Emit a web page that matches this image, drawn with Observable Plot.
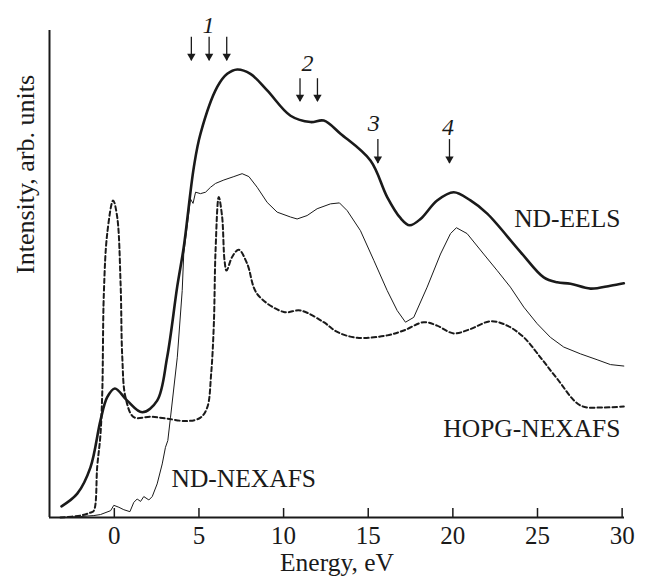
<!DOCTYPE html>
<html><head><meta charset="utf-8">
<script src="https://cdn.jsdelivr.net/npm/d3@7"></script>
<script src="https://cdn.jsdelivr.net/npm/@observablehq/plot@0.6"></script>
<style>body{margin:0;background:#fff}</style>
</head><body><div id="chart"></div>
<script>
// ND-EELS (thick solid)
const eelsE = [-3.12,-2.19,-1.41,-0.82,-0.42,0.03,0.76,1.65,2.53,3.12,3.72,4.1,4.7,5.09,6.08,6.67,7.26,8.04,9.03,10.41,11.59,12.37,13.36,15.13,16.12,16.9,17.45,18.09,19.07,20.05,21.04,22.03,24.0,25.37,26.16,26.95,28.13,29.31,30.1];
const eelsI = [2.3,4.9,10.3,19.9,24.7,26.5,24.0,21.6,24.0,32.9,47.5,55.5,72.0,78.8,88.4,91.1,92.0,91.1,87.7,82.5,81.2,81.5,78.8,73.3,65.8,61.5,60.0,61.3,65.1,66.8,65.1,62.4,54.5,49.3,48.3,48.0,47.0,47.6,48.1];
// ND-NEXAFS (thin solid)
const ndE = [-3.0,-2.0,-1.21,-0.82,-0.22,-0.03,0.27,0.56,0.92,1.15,1.35,1.55,1.74,2.04,2.24,2.53,2.83,3.02,3.16,3.32,3.72,4.01,4.1,4.5,4.65,4.8,5.09,5.39,5.68,5.98,6.47,7.06,7.55,7.95,8.44,9.03,9.62,10.41,10.8,11.39,11.98,12.77,13.3,13.76,14.54,15.33,16.12,16.71,17.2,17.69,18.48,19.27,19.86,20.21,20.84,21.82,22.62,23.4,24.19,24.98,25.76,26.55,27.54,28.52,29.31,30.1];
const ndI = [0,0.2,0.4,0.6,1.4,2.5,2.1,1.6,1.2,3.1,3.8,3.3,4.3,3.6,4.3,6.9,11.0,14.4,15.8,20.6,32.9,46.6,54.1,65.4,64.5,66.8,66.5,66.8,67.8,68.6,69.3,70.0,70.6,70.0,67.8,64.7,62.7,61.7,61.3,62.0,63.4,64.4,64.6,63.0,58.9,52.8,46.6,42.5,40.1,41.1,47.3,54.1,58.3,59.5,58.3,54.1,50.7,47.3,43.2,39.8,37.0,35.0,33.6,32.4,31.4,31.1];
// HOPG-NEXAFS (dashed)
const hopgE = [-3.18,-2.0,-1.41,-1.21,-1.01,-0.82,-0.71,-0.62,-0.42,-0.07,0.17,0.37,0.47,0.66,1.15,2.14,3.12,4.31,5.09,5.49,5.72,5.88,5.98,6.17,6.37,6.51,6.63,6.96,7.35,7.85,8.44,10.01,11.0,12.37,13.17,14.35,16.12,17.1,18.28,19.07,20.05,21.04,22.22,23.21,24.19,25.17,26.16,27.54,28.91,30.1];
const hopgI = [0,0.4,1.0,1.4,10.5,17.0,26.0,45.9,58.3,65.1,61.7,48.0,32.9,24.7,20.6,20.7,20.3,19.8,20.5,22.6,29.5,39.8,54.8,65.8,61.7,52.8,50.7,53.5,55.0,52.1,45.9,42.2,42.5,40.1,38.1,36.9,37.4,38.4,40.1,39.4,37.8,38.7,40.3,39.4,37.0,32.9,28.5,23.0,22.6,22.8];

// arrows
const arrowE = [4.55,5.6,6.64,10.97,12.0,15.57,19.8];
const arrowTop = [98.6,98.6,98.6,90.1,90.1,77.6,77.6];
const arrowTip = [93.8,93.8,93.8,85.4,85.4,72.7,72.7];
const numLabels = ["1","2","3","4"];
const numE = [5.56,11.41,15.33,19.72];
const numI = [101,93.2,80.9,80.1];

// series labels
const endNames = ["ND-EELS","HOPG-NEXAFS"];
const endE = [29.9,29.9];
const endI = [61.4,18.3];
const startNames = ["ND-NEXAFS"];
const startE = [3.38];
const startI = [8.0];

const xTicks = [0,5,10,15,20,25,30];
const xDomain = [-3.83, 30.14];
const ink = "#1a1a1a";

const chart = Plot.plot({
  width: 645, height: 585,
  marginLeft: 49, marginRight: 21, marginTop: 30, marginBottom: 68,
  x: {domain: xDomain},
  y: {domain: [0, 100], axis: null},
  style: {fontFamily: "'Liberation Serif', 'Times New Roman', serif", background: "white", color: ink},
  marks: [
    Plot.axisX(xTicks, {tickSize: -9, strokeWidth: 1.5, fill: "none", label: null}),
    Plot.axisX(xTicks, {tickSize: 0, tickPadding: 9, fontSize: 25, label: null}),
    Plot.ruleY([0], {stroke: ink, strokeWidth: 2}),
    Plot.ruleX([xDomain[0]], {stroke: ink, strokeWidth: 2}),
    Plot.text(["Energy, eV"], {frameAnchor: "bottom", dy: 53, fontSize: 25.5, fill: ink}),
    Plot.text(["Intensity, arb. units"], {frameAnchor: "left", rotate: -90, dx: -24, fontSize: 26, fill: ink}),
    Plot.line(hopgI, {x: hopgE, y: hopgI, curve: "catmull-rom", stroke: ink, strokeWidth: 2, strokeDasharray: "4.5,3"}),
    Plot.line(ndI, {x: ndE, y: ndI, curve: "linear", stroke: ink, strokeWidth: 1}),
    Plot.line(eelsI, {x: eelsE, y: eelsI, curve: "catmull-rom", stroke: ink, strokeWidth: 2.6}),
    Plot.ruleX(arrowE, {x: arrowE, y1: arrowTop, y2: arrowTip, stroke: ink, strokeWidth: 1.3}),
    Plot.dot(arrowE, {x: arrowE, y: arrowTip, symbol: "triangle", r: 3.1, rotate: 180, dy: -4.5, fill: ink, stroke: "none"}),
    Plot.text(numLabels, {x: numE, y: numI, text: numLabels, fontSize: 24, fontStyle: "italic", fill: ink}),
    Plot.text(endNames, {x: endE, y: endI, text: endNames, textAnchor: "end", fontSize: 25.5, fill: ink}),
    Plot.text(startNames, {x: startE, y: startI, text: startNames, textAnchor: "start", fontSize: 25.5, fill: ink})
  ]
});
document.getElementById("chart").appendChild(chart);
</script>
</body></html>
